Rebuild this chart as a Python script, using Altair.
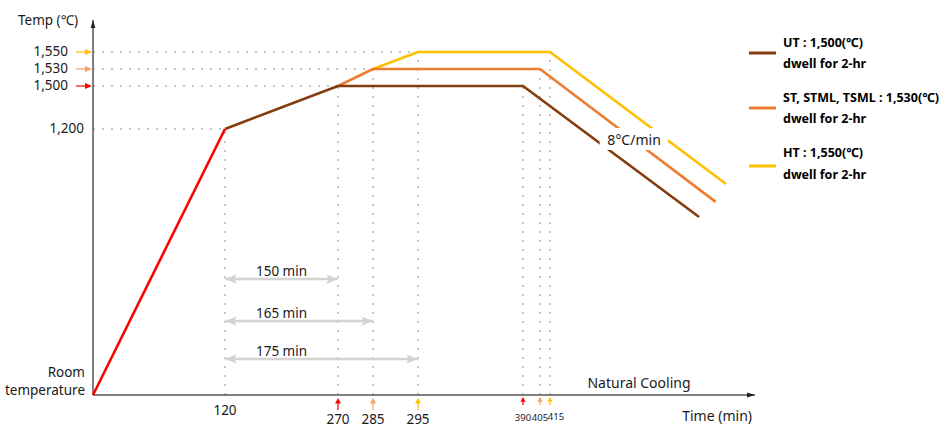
import altair as alt
import pandas as pd

FONT = "Noto Sans, Noto Sans CJK KR, sans-serif"
INK = "#1a1a1a"

ROOM_T = 25  # nominal value standing for room temperature

# common heating ramp
heat_time = [0, 120]
heat_temp = [ROOM_T, 1200]

# per-grade schedule: ramp to peak, 2-hr dwell, cooling at 8 °C/min
grade_keys = ["UT", "ST", "HT"]
grade_colors = ["#843C0C", "#ED7D31", "#FFC000"]
grade_time = {
    "UT": [120, 270, 390, 487],
    "ST": [270, 285, 405, 495],
    "HT": [285, 295, 415, 500],
}
grade_temp = {
    "UT": [1200, 1500, 1500, 811],
    "ST": [1500, 1530, 1530, 878],
    "HT": [1530, 1550, 1550, 957],
}
legend_titles = ["UT : 1,500(℃)", "ST, STML, TSML : 1,530(℃)", "HT : 1,550(℃)"]
marker_colors = ["#FF0000", "#F4A060", "#FFC000"]

# ramp durations measured from the end of the first ramp
span_start = 120
span_end = [270, 285, 295]
span_level = [537, 352, 184]

# cooling-rate note
rate_text = "8°C/min"
rate_time, rate_temp = 455.6, 1147
rate_box = (439, 472, 1107, 1207)

T_MAX = 1600
X_MAX = 514

# schematic, piecewise axes
x_scale = alt.Scale(domain=[0, 120, 270, 285, 295, 390, 405, 415, X_MAX],
                    range=[93, 225, 338, 373, 418, 523, 540, 550, 755],
                    nice=False, zero=False)
y_scale = alt.Scale(domain=[ROOM_T, 1200, 1500, 1530, 1550, T_MAX],
                    range=[395, 129, 86, 69, 52, 20],
                    nice=False, zero=False)


def X(f):
    return alt.X(f, type="quantitative", scale=x_scale, axis=None)


def Y(f):
    return alt.Y(f, type="quantitative", scale=y_scale, axis=None)


ONE = pd.DataFrame({"_": [0]})


def label(text, x, y, size=13.5, align="center", weight="normal", color=INK):
    return alt.Chart(ONE).mark_text(
        text=text, font=FONT, fontSize=size, align=align, baseline="middle",
        fontWeight=weight, color=color,
    ).encode(x=alt.value(x), y=alt.value(y))


HEAD_L = "M0,0 L2,-0.8 L1.5,0 L2,0.8 Z"
HEAD_R = "M0,0 L-2,-0.8 L-1.5,0 L-2,0.8 Z"
TRI_R = "M0,0 L-2,-0.85 L-2,0.85 Z"
TRI_UP = "M0,0 L-0.85,1.6 L0.85,1.6 Z"
AX_UP = "M0,0 L-0.6,2 L0.6,2 Z"
AX_R = "M0,0 L-2,-0.6 L-2,0.6 Z"

layers = []

# dotted guides from the axes to each knot of the schedule
knots = [(heat_time[1], heat_temp[1])]
for k in grade_keys:
    knots.append((grade_time[k][1], grade_temp[k][1]))
h_t = [0] * len(knots)
h_t2 = [t for t, _ in knots]
h_T = [T for _, T in knots]
dwell_end = [(grade_time[k][2], grade_temp[k][2]) for k in grade_keys]
v_pts = knots + dwell_end
grid = pd.DataFrame({
    "t": h_t + [t for t, _ in v_pts],
    "t2": h_t2 + [t for t, _ in v_pts],
    "T": h_T + [ROOM_T] * len(v_pts),
    "T2": h_T + [T for _, T in v_pts],
})
layers.append(
    alt.Chart(grid).mark_rule(color="#c6c6c6", strokeWidth=2, strokeDash=[2, 7])
    .encode(x=X("t"), x2=alt.X2("t2"), y=Y("T"), y2=alt.Y2("T2"))
)

# axes
axes = pd.DataFrame({"t": [0, 0], "t2": [0, X_MAX], "T": [ROOM_T, ROOM_T], "T2": [T_MAX, ROOM_T]})
layers.append(
    alt.Chart(axes).mark_rule(color="#555555", strokeWidth=1.5)
    .encode(x=X("t"), x2=alt.X2("t2"), y=Y("T"), y2=alt.Y2("T2"))
)
layers.append(
    alt.Chart(pd.DataFrame({"t": [0], "T": [T_MAX]})).mark_point(
        shape=AX_UP, filled=True, size=64, color="#222222", opacity=1)
    .encode(x=X("t"), y=Y("T"))
)
layers.append(
    alt.Chart(pd.DataFrame({"t": [X_MAX], "T": [ROOM_T]})).mark_point(
        shape=AX_R, filled=True, size=64, color="#222222", opacity=1)
    .encode(x=X("t"), y=Y("T"))
)

# span arrows
spans = pd.DataFrame({
    "t": [span_start] * len(span_end),
    "t2": span_end,
    "T": span_level,
    "mid": [(span_start + span_end[0]) / 2] * len(span_end),
    "lab": [f"{e - span_start} min" for e in span_end],
})
layers.append(
    alt.Chart(spans).mark_rule(color="#d3d3d3", strokeWidth=2.5)
    .encode(x=X("t"), x2=alt.X2("t2"), y=Y("T"))
)
layers.append(
    alt.Chart(spans).mark_point(shape=HEAD_L, filled=True, size=144, color="#d3d3d3", opacity=1)
    .encode(x=X("t"), y=Y("T"))
)
layers.append(
    alt.Chart(spans).mark_point(shape=HEAD_R, filled=True, size=144, color="#d3d3d3", opacity=1)
    .encode(x=X("t2"), y=Y("T"))
)
layers.append(
    alt.Chart(spans).mark_text(font=FONT, fontSize=13.5, color=INK, baseline="middle", dy=-7)
    .encode(x=X("mid"), y=Y("T"), text="lab:N")
)

# schedule lines (drawn back to front)
for k, c in reversed(list(zip(grade_keys, grade_colors))):
    df = pd.DataFrame({"t": grade_time[k], "T": grade_temp[k], "o": range(len(grade_time[k]))})
    layers.append(
        alt.Chart(df).mark_line(color=c, strokeWidth=2.6, strokeJoin="round")
        .encode(x=X("t"), y=Y("T"), order="o:Q")
    )
heat = pd.DataFrame({"t": heat_time, "T": heat_temp, "o": [0, 1]})
layers.append(
    alt.Chart(heat).mark_line(color="#FF0000", strokeWidth=2.6)
    .encode(x=X("t"), y=Y("T"), order="o:Q")
)

# cooling-rate note on a white patch
layers.append(
    alt.Chart(pd.DataFrame({"t": [rate_box[0]], "t2": [rate_box[1]],
                            "T": [rate_box[2]], "T2": [rate_box[3]]}))
    .mark_rect(color="white").encode(x=X("t"), x2=alt.X2("t2"), y=Y("T"), y2=alt.Y2("T2"))
)
layers.append(
    alt.Chart(pd.DataFrame({"t": [rate_time], "T": [rate_temp]}))
    .mark_text(text=rate_text, font=FONT, fontSize=14, color=INK, baseline="middle")
    .encode(x=X("t"), y=Y("T"))
)

# y-axis ticks: 1,200 plain, peak temperatures with coloured markers
y_peak = pd.DataFrame({"T": [grade_temp[k][1] for k in grade_keys], "g": grade_keys})
marker_scale = alt.Scale(domain=grade_keys, range=marker_colors)
layers.append(
    alt.Chart(pd.DataFrame({"T": [heat_temp[1]]}))
    .mark_text(font=FONT, fontSize=13.5, color=INK, align="right", baseline="middle")
    .encode(x=alt.value(84), y=Y("T"), text=alt.Text("T:Q", format=","))
)
layers.append(
    alt.Chart(y_peak)
    .mark_text(font=FONT, fontSize=13.5, color=INK, align="right", baseline="middle")
    .encode(x=alt.value(68), y=Y("T"), text=alt.Text("T:Q", format=","))
)
layers.append(
    alt.Chart(y_peak).mark_rule(strokeWidth=2, opacity=0.6)
    .encode(x=alt.value(76), x2=alt.value(88), y=Y("T"),
            color=alt.Color("g:N", scale=marker_scale, legend=None))
)
layers.append(
    alt.Chart(y_peak).mark_point(shape=TRI_R, filled=True, size=49, opacity=1)
    .encode(x=alt.value(92), y=Y("T"),
            color=alt.Color("g:N", scale=marker_scale, legend=None))
)
layers.append(label("Room", 85, 373, align="right"))
layers.append(label("temperature", 85, 391, align="right"))

# x-axis ticks
layers.append(
    alt.Chart(pd.DataFrame({"t": [heat_time[1]]}))
    .mark_text(font=FONT, fontSize=13.5, color=INK, baseline="middle")
    .encode(x=X("t"), y=alt.value(411), text="t:Q")
)
x_peak = pd.DataFrame({"t": [grade_time[k][1] for k in grade_keys], "g": grade_keys})
x_dwell = pd.DataFrame({"t": [grade_time[k][2] for k in grade_keys], "g": grade_keys})
layers.append(
    alt.Chart(x_peak).mark_rule(strokeWidth=2, opacity=0.6)
    .encode(x=X("t"), y=alt.value(402), y2=alt.value(410),
            color=alt.Color("g:N", scale=marker_scale, legend=None))
)
layers.append(
    alt.Chart(x_peak).mark_point(shape=TRI_UP, filled=True, size=49, opacity=1)
    .encode(x=X("t"), y=alt.value(398),
            color=alt.Color("g:N", scale=marker_scale, legend=None))
)
layers.append(
    alt.Chart(x_peak).mark_text(font=FONT, fontSize=13.5, color=INK, baseline="middle")
    .encode(x=X("t"), y=alt.value(420), text="t:Q")
)
layers.append(
    alt.Chart(x_dwell).mark_rule(strokeWidth=2, opacity=0.6)
    .encode(x=X("t"), y=alt.value(400), y2=alt.value(405),
            color=alt.Color("g:N", scale=marker_scale, legend=None))
)
layers.append(
    alt.Chart(x_dwell).mark_point(shape=TRI_UP, filled=True, size=36, opacity=1)
    .encode(x=X("t"), y=alt.value(397),
            color=alt.Color("g:N", scale=marker_scale, legend=None))
)
layers.append(
    alt.Chart(x_dwell.iloc[:2]).mark_text(font=FONT, fontSize=9.5, color=INK, baseline="middle")
    .encode(x=X("t"), y=alt.value(418), text="t:Q")
)
layers.append(
    alt.Chart(x_dwell.iloc[2:]).mark_text(font=FONT, fontSize=9.5, color=INK, baseline="middle", dx=6)
    .encode(x=X("t"), y=alt.value(417), text="t:Q")
)

# axis titles and notes
layers.append(label("Temp (℃)", 18, 21, align="left"))
layers.append(label("Time (min)", 752, 417, size=14, align="right"))
layers.append(label("Natural Cooling", 639, 384, size=14))

# legend
leg_y = [53, 108, 166]
text_y = [(43, 64), (98, 119), (153, 175)]
for title, color, ly, (t1, t2) in zip(legend_titles, grade_colors, leg_y, text_y):
    layers.append(
        alt.Chart(ONE).mark_rule(color=color, strokeWidth=3)
        .encode(x=alt.value(749), x2=alt.value(776), y=alt.value(ly))
    )
    layers.append(label(title, 783, t1, size=12.5, align="left", weight="bold", color="#000000"))
    layers.append(label("dwell for 2-hr", 783, t2, size=12.5, align="left", weight="bold", color="#000000"))

chart = (
    alt.layer(*layers)
    .properties(width=945, height=439, padding=0,
                autosize=alt.AutoSizeParams(type="none"), background="white")
    .configure_view(stroke=None)
)

chart.save("out.html", embed_options={"renderer": "svg", "actions": False})
